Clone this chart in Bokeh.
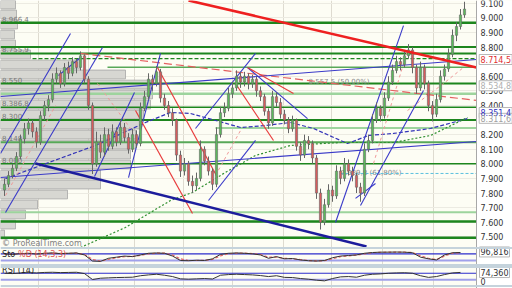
from bokeh.plotting import figure
from bokeh.models import Range1d, FixedTicker, Span, Grid, ColumnDataSource
from bokeh.core.properties import value
from bokeh.embed import file_html
from bokeh.resources import INLINE

FONT = "DejaVu Sans"

# ---------------- data ----------------
opens = [7820,7860,7920,7970,8050,8170,8240,8280,8220,8150,
         8330,8400,8440,8580,8620,8550,8660,8620,8700,8660,
         8740,8580,8400,8000,8150,8080,8200,8120,8220,8150,
         8250,8180,8100,8200,8140,8380,8460,8580,8550,8630,
         8450,8400,8350,8300,8060,7950,8000,7880,7850,7900,
         8100,8020,7950,7860,8200,8350,8380,8480,8520,8600,
         8560,8600,8550,8580,8500,8460,8360,8280,8460,8420,
         8340,8300,8240,8300,8120,8060,8160,8140,8040,7800,
         7600,7720,7820,7780,7950,7900,8000,7950,7920,7840,
         7800,8100,8160,8300,8380,8330,8450,8560,8640,8700,
         8680,8740,8780,8660,8520,8660,8550,8400,8340,8440,
         8600,8650,8750,8880,8940,9020]
closes = [7860,7920,7970,8050,8170,8240,8280,8220,8150,8330,
          8400,8440,8580,8620,8550,8660,8620,8700,8660,8740,
          8580,8400,8000,8150,8080,8200,8120,8220,8150,8250,
          8180,8100,8200,8140,8380,8460,8580,8550,8630,8450,
          8400,8350,8300,8060,7950,8000,7880,7850,7900,8100,
          8020,7950,7860,8200,8350,8380,8480,8520,8600,8560,
          8600,8550,8580,8500,8460,8360,8280,8460,8420,8340,
          8300,8240,8300,8120,8060,8160,8140,8040,7800,7600,
          7720,7820,7780,7950,7900,8000,7950,7920,7840,7800,
          8100,8160,8300,8380,8330,8450,8560,8640,8700,8680,
          8740,8780,8660,8520,8660,8550,8400,8340,8440,8600,
          8650,8750,8880,8940,9020,9060]
highs = [7900,7950,8000,8080,8200,8280,8310,8300,8250,8360,
         8430,8470,8620,8660,8640,8690,8700,8730,8720,8770,
         8750,8600,8420,8220,8200,8250,8240,8270,8250,8300,
         8280,8210,8240,8230,8420,8500,8620,8610,8670,8650,
         8480,8430,8380,8310,8090,8040,8020,7920,7940,8160,
         8120,8050,7970,8250,8390,8420,8520,8560,8640,8630,
         8630,8620,8610,8600,8530,8480,8380,8500,8490,8450,
         8370,8320,8330,8310,8150,8200,8190,8160,8060,7830,
         7760,7860,7850,7990,7980,8040,8030,7980,7940,7870,
         8140,8200,8340,8420,8400,8490,8600,8680,8740,8730,
         8780,8820,8800,8680,8700,8680,8570,8430,8480,8640,
         8680,8790,8920,8970,9060,9110]
lows = [7780,7840,7900,7950,8030,8140,8200,8180,8110,8130,
        8300,8360,8420,8550,8520,8530,8580,8600,8620,8640,
        8550,8370,7930,7980,8040,8050,8090,8100,8120,8130,
        8150,8070,8080,8110,8120,8360,8440,8500,8530,8420,
        8370,8320,8260,8020,7910,7920,7850,7800,7820,7880,
        7990,7920,7820,7840,8180,8320,8360,8450,8500,8520,
        8530,8510,8520,8460,8430,8330,8240,8260,8390,8310,
        8270,8210,8220,8090,8020,8040,8100,8000,7760,7550,
        7580,7700,7740,7760,7860,7880,7920,7880,7800,7740,
        7780,8080,8140,8280,8290,8310,8430,8540,8620,8640,
        8660,8720,8620,8480,8500,8510,8360,8290,8320,8420,
        8570,8630,8730,8840,8920,9000]

# volume-by-price profile
vp_price = [9091,9023,8954,8886,8817,8749,8680,8612,8543,8475,8406,8338,
            8269,8201,8132,8064,7995,7927,7858,7790,7721,7653,7584,7516]
vp_volume = [15,16,17,14,15,30,80,125,150,152,150,143,
             140,135,135,130,130,100,100,67,37,25,15,4]

# horizontal support / resistance levels
level_price = [8966.4, 8800, 8755.9, 8662, 8550, 8480, 8386.8, 8300, 8245, 8148, 8000, 7669, 7605, 7493]
level_start = [-1, -1, -1, 25.75, -1, -1, -1, -1, 52.75, -1, -1, -1, -1, -1]
dashed_level_price = [8720]
dashed_level_start = [7]
level_label_text = ["8.966,4", "8.755,9", "8.550", "8.386,8", "8.300", "8.148", "8.000"]
level_label_price = [8966.4, 8755.9, 8550, 8386.8, 8300, 8148, 8000]

# trend lines (bar index, price)
red_main = dict(x0=[46], y0=[9119], x1=[118], y1=[8660])
navy_main = dict(x0=[7.75], y0=[8002], x1=[90.5], y1=[7434])
blue_x0 = [-1, -1, 0.25, -1, 22.5, 31, 47.75, 51, 60.75, 82.75, 89, 13.5, 87.75]
blue_y0 = [8461, 7906, 7667, 8071, 7913, 7906, 8242, 7749, 8660, 7598, 7715, 8605, 7763]
blue_x1 = [118, 118, 24.5, 16.5, 32.5, 39, 62.75, 62.75, 75.75, 99.75, 104.75, 19, 92.75]
blue_y1 = [8715, 8153, 8797, 8893, 8488, 8756, 8756, 8160, 8310, 8947, 8502, 8728, 7865]
red_x0 = [38.25, 32.75, 60.75, 57.75]
red_y0 = [8660, 8365, 8660, 8550]
red_x1 = [53.25, 47, 72.25, 67.25]
red_y1 = [7906, 7660, 8482, 8160]
red_dash = dict(x0=[19], y0=[8756], x1=[118], y1=[8434])
pink_x0 = [0.25, 23.25, 92.25, 52.75]
pink_y0 = [7783, 8550, 8002, 7920]
pink_x1 = [12.75, 31.5, 100.75, 59]
pink_y1 = [8399, 8242, 8776, 8228]
pink_curve_x = [100.75, 109.75, 114.75]
pink_curve_y = [8365, 8550, 8660]
blue_dash_x = [0.25, 9, 22.75, 35.25, 41.5, 46.5, 52.75, 59, 65.25, 71.5, 77.25, 85.75, 91, 97.25, 106.5, 115.75]
blue_dash_y = [7899, 7988, 8126, 8283, 8352, 8345, 8297, 8249, 8262, 8283, 8242, 8139, 8194, 8208, 8242, 8310]
green_dash_x = [19, 30.25, 41.5, 47, 55.25, 62.75, 71.5, 84, 97.25, 106.5, 115.75]
green_dash_y = [7427, 7564, 7749, 7804, 7941, 8057, 8126, 8146, 8146, 8194, 8317]
fib_price = [8557.5, 7939.8]
fib_text = ["8.557,5 (50,00%)", "7.939,8 (61,80%)"]
fib_start = [76, 84]

# right-hand price scale
price_ticks = [7500, 7600, 7700, 7800, 7900, 8000, 8100, 8200,
               8400, 8500, 8600, 8800, 8900, 9000, 9100]
price_tick_labels = ["7.500", "7.600", "7.700", "7.800", "7.900", "8.000", "8.100", "8.200",
                     "8.400", "8.500", "8.600", "8.800", "8.900", "9.000", "9.100"]
box_price = [8714.5, 8534.8, 8351.4, 8311.6]
box_text = ["8.714,5", "8.534,8", "8.351,4", "8.311,6"]
time_grid = [8.5, 21, 32.5, 44.75, 57, 69.75, 81.75, 94.5, 107.25]

# indicators (every second bar)
ind_x = list(range(0, 116, 2))
stoch_k = [80,75,82,85,78,85,88,82,85,88, 70,15,12,40,50,60,55,70,85,88,
           85,60,20,18,22,20,35,75,85,88, 85,80,70,40,55,35,38,25,18,15,
           20,45,60,65,70,85,92,95,95,96, 95,90,50,35,25,70,90,92]
stoch_d = [78,76,80,84,80,83,86,84,84,86, 75,30,15,30,45,55,57,65,80,86,
           86,70,35,20,20,22,30,62,80,86, 86,82,74,50,50,40,36,28,20,16,
           18,35,55,62,68,80,90,94,95,95, 95,92,62,40,28,60,86,90]
rsi = [70,68,72,74,72,75,76,74,75,76, 68,32,40,42,44,45,46,55,60,64,
       58,50,36,34,36,38,35,58,62,64, 62,60,56,50,55,45,44,38,34,28,
       24,38,48,50,46,58,64,66,70,72, 73,70,55,45,50,62,72,75]
stoch_last, rsi_last = 96.816, 74.36
stoch_last_text, rsi_last_text = "96,816", "74,360"

# ---------------- figure ----------------
X_END = 118      # last bar slot of the chart area
X_MAX = 127      # right edge incl. price-scale strip
p = figure(width=512, height=288, x_range=Range1d(-1, X_MAX), y_range=Range1d(7146.1, 9118.6),
           output_backend="svg", toolbar_location=None, y_axis_location=None,
           x_axis_location=None, min_border=0, background_fill_color="#fdfdf4",
           border_fill_color="#ffffff", outline_line_color=None)
p.extra_x_ranges = {"vol": Range1d(0, 512)}
p.extra_y_ranges = {"stoch": Range1d(-232, 2360), "rsi": Range1d(-22.4, 1723)}
p.grid.grid_line_color = None

p.add_layout(Grid(dimension=0, ticker=FixedTicker(ticks=time_grid), grid_line_color="#dedbd0", grid_line_width=1))
p.add_layout(Grid(dimension=1, ticker=FixedTicker(ticks=price_ticks), grid_line_color="#ecebe2", grid_line_width=1))

# volume profile
p.hbar(y=vp_price, left=0, right=vp_volume, height=60, x_range_name="vol",
       fill_color="#d7d7d2", line_color="#a6a6a6", line_width=0.8)
p.text(x=[-0.6] * len(level_label_text), y=level_label_price, text=level_label_text,
       text_font=value(FONT), text_font_size="7px", text_color="#777777",
       text_baseline="bottom", y_offset=-1)

# horizontal levels
dark, light, mid = "#1d861d", "#9dd49d", "#58a858"
level_color = [dark, dark, dark, mid, dark, light, dark, dark, light, mid, dark, light, dark, dark]
level_width = [2.5, 2, 2, 1.5, 2, 2.5, 1.5, 2, 2, 2, 1.5, 2, 2.5, 2.5]
p.segment(x0=level_start, x1=[X_END] * len(level_price), y0=level_price, y1=level_price,
          line_color=level_color, line_width=level_width)
p.segment(x0=dashed_level_start, x1=[X_END], y0=dashed_level_price, y1=dashed_level_price,
          line_color=dark, line_width=1.3, line_dash="4 2")

# fib texts and line
p.text(x=fib_start, y=fib_price, text=fib_text, text_font=value(FONT), text_font_size="7px",
       text_color="#888888", text_baseline="middle")
p.segment(x0=[84], x1=[X_END], y0=[7934], y1=[7934], line_color="#5bc0de", line_width=1, line_dash="3 2")

# dashed curves
p.line(blue_dash_x, blue_dash_y, line_color="#3434b8", line_width=1.2, line_dash="4 2")
p.line(green_dash_x, green_dash_y, line_color="#2f8f2f", line_width=1.2, line_dash="2 2")
p.segment(x0=pink_x0, y0=pink_y0, x1=pink_x1, y1=pink_y1, line_color="#f09a9a", line_width=1, line_dash="3 3")
p.line(pink_curve_x, pink_curve_y, line_color="#f09a9a", line_width=1, line_dash="3 3")
p.segment(line_color="#e46060", line_width=1.2, line_dash="8 4", **red_dash)

# thin trend lines
p.segment(x0=blue_x0, y0=blue_y0, x1=blue_x1, y1=blue_y1, line_color="#3a3ac8", line_width=1.1)
p.segment(x0=red_x0, y0=red_y0, x1=red_x1, y1=red_y1, line_color="#e83c3c", line_width=1.2)

# candles
inc = [c >= o for o, c in zip(opens, closes)]
src = ColumnDataSource(dict(
    x=list(range(len(closes))), high=highs, low=lows,
    top=[max(o, c) for o, c in zip(opens, closes)],
    bottom=[min(o, c) for o, c in zip(opens, closes)],
    color=["#5cb85c" if u else "#d65c5c" for u in inc]))
p.segment(x0="x", x1="x", y0="low", y1="high", source=src, line_color="#666666", line_width=1)
p.vbar(x="x", width=0.55, top="top", bottom="bottom", source=src,
       fill_color="color", line_color="#666666", line_width=0.6)

# thick lines
p.segment(line_color="#ee2020", line_width=2.5, **red_main)
p.segment(line_color="#1c1c9c", line_width=2.5, **navy_main)

# panel separators
for loc in [7423, 7307, 7293, 7163]:
    p.add_layout(Span(location=loc, dimension="width", line_color="#c5d3dc", line_width=2))

p.text(x=[-0.6], y=[7454], text=["© ProRealTime.com"], text_font=value(FONT),
       text_font_size="8px", text_color="#808080", text_baseline="middle")

# stochastic panel
p.segment(x0=[-1, -1], x1=[X_END, X_END], y0=[80, 20], y1=[80, 20], y_range_name="stoch",
          line_color=["#2c2ccc", "#a0a0ea"], line_width=[1.2, 2])
p.line(ind_x, stoch_d, y_range_name="stoch", line_color="#e46a6a", line_width=1.2, line_dash="3 2")
p.line(ind_x, stoch_k, y_range_name="stoch", line_color="#333333", line_width=1)
p.text(x=[-0.6], y=[75], text=["Sto"], y_range_name="stoch", text_font=value(FONT),
       text_font_size="8px", text_color="#222222", text_baseline="middle")
p.text(x=[3.4], y=[75], text=["%D (14,3,3)"], y_range_name="stoch", text_font=value(FONT),
       text_font_size="8px", text_color="#e05050", text_baseline="middle")

# RSI panel
p.segment(x0=[-1, -1], x1=[X_END, X_END], y0=[70, 30], y1=[70, 30], y_range_name="rsi",
          line_color=["#2c2ccc", "#a0a0ea"], line_width=[1.2, 2])
p.line(ind_x, rsi, y_range_name="rsi", line_color="#333333", line_width=1)
p.text(x=[-0.6], y=[88], text=["RSI (14)"], y_range_name="rsi", text_font=value(FONT),
       text_font_size="8px", text_color="#222222", text_baseline="middle")

# ---- right price-scale strip ----
p.quad(left=[X_END], right=[X_MAX], bottom=[7146.1], top=[9118.6],
       fill_color="#ffffff", line_color=None)
p.segment(x0=[X_END], x1=[X_END], y0=[7146.1], y1=[9118.6], line_color="#a8a8a8", line_width=1)
for loc in [7423, 7307, 7293, 7163]:
    p.segment(x0=[X_END], x1=[X_MAX], y0=[loc], y1=[loc], line_color="#dde6ec", line_width=1.5)
p.text(x=[X_END + 1] * len(price_ticks), y=price_ticks, text=price_tick_labels,
       text_font=value(FONT), text_font_size="8px", text_color="#333333", text_baseline="middle")

box_colors = ["#e03030", "#b0b0b0", "#3030c0", "#a0a0a0"]
p.rect(x=[X_END + 4.8] * len(box_price), y=box_price, width=33, height=10,
       width_units="screen", height_units="screen", fill_color="#ffffff", line_color="#b8b8b8")
p.text(x=[X_END + 1] * len(box_price), y=box_price, text=box_text, text_color=box_colors,
       text_font=value(FONT), text_font_size="8px", text_baseline="middle")

p.rect(x=[X_END + 4.5], y=[stoch_last], width=30, height=10, width_units="screen",
       height_units="screen", y_range_name="stoch", fill_color="#ffffff", line_color="#b8b8b8")
p.text(x=[X_END + 1], y=[stoch_last], text=[stoch_last_text], y_range_name="stoch",
       text_font=value(FONT), text_font_size="8px", text_color="#333333", text_baseline="middle")
p.rect(x=[X_END + 4.5], y=[rsi_last], width=30, height=10, width_units="screen",
       height_units="screen", y_range_name="rsi", fill_color="#ffffff", line_color="#b8b8b8")
p.text(x=[X_END + 1], y=[rsi_last], text=[rsi_last_text], y_range_name="rsi",
       text_font=value(FONT), text_font_size="8px", text_color="#333333", text_baseline="middle")
p.text(x=[X_END + 1], y=[20], text=["0"], y_range_name="rsi",
       text_font=value(FONT), text_font_size="8px", text_color="#333333", text_baseline="middle")

open("out.html", "w").write(file_html(p, INLINE))
